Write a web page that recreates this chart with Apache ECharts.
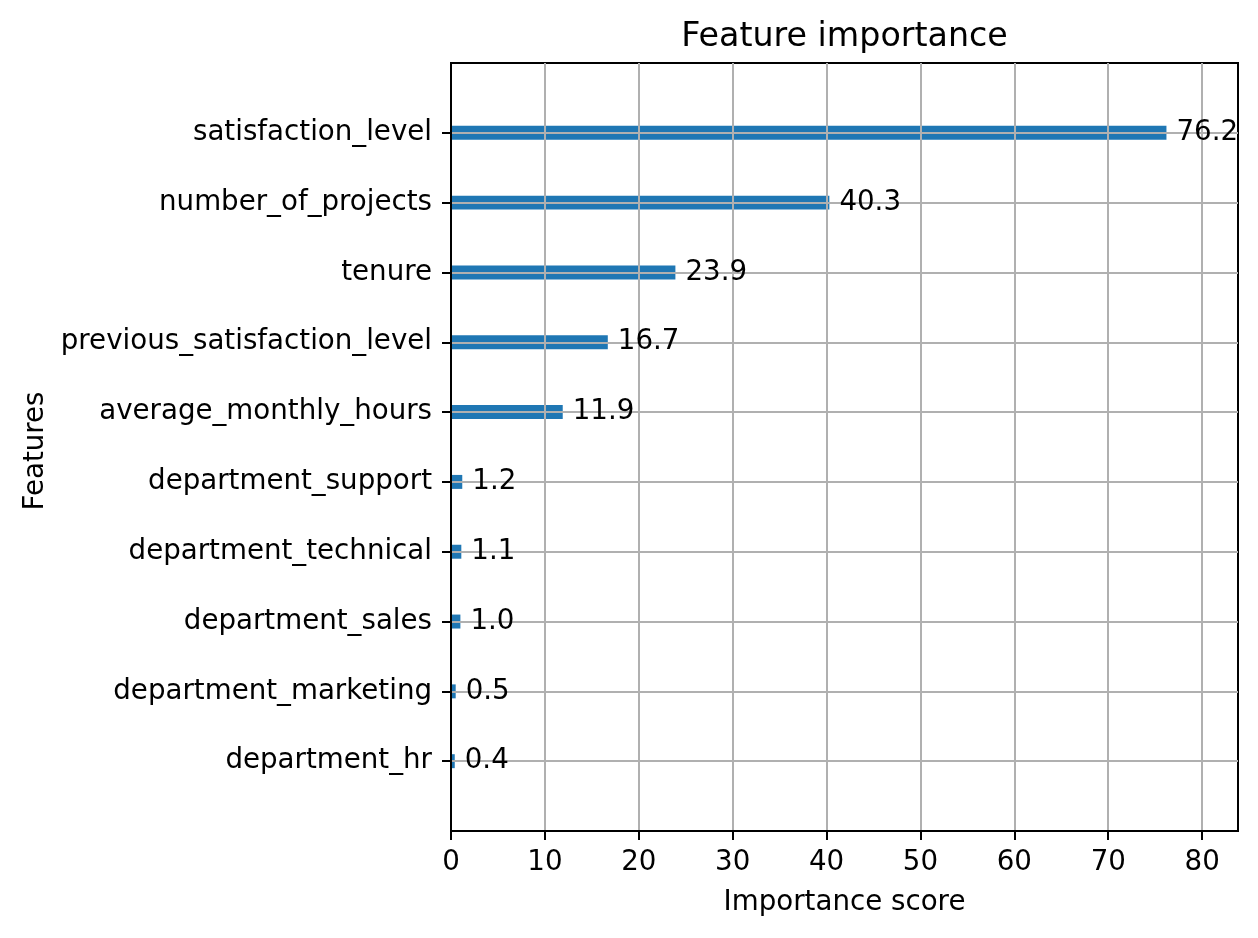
<!DOCTYPE html>
<html>
<head>
<meta charset="utf-8">
<script src="https://cdn.jsdelivr.net/npm/echarts@6/dist/echarts.min.js"></script>
<style>html,body{margin:0;padding:0;background:#fff}#c{width:1258px;height:938px}</style>
</head>
<body>
<div id="c"></div>
<script>
// Features, bottom to top
const features = [
  'department_hr',
  'department_marketing',
  'department_sales',
  'department_technical',
  'department_support',
  'average_monthly_hours',
  'previous_satisfaction_level',
  'tenure',
  'number_of_projects',
  'satisfaction_level'
];
const scores = [0.4, 0.5, 1.0, 1.1, 1.2, 11.9, 16.7, 23.9, 40.3, 76.2];
const xTicks = [0, 10, 20, 30, 40, 50, 60, 70, 80];

const FONT = 'DejaVu Sans';
const FS = 27.7;
const cats = [''].concat(features, ['']);
const vals = ['-'].concat(scores, ['-']);
const notPad = (i, v) => v !== '';

const chart = echarts.init(document.getElementById('c'), null, {renderer: 'canvas'});
chart.setOption({
  animation: false,
  backgroundColor: '#ffffff',
  title: {
    text: 'Feature importance',
    left: 844.5, top: 21, textAlign: 'center', padding: 0,
    textStyle: {fontFamily: FONT, fontSize: 33.3, fontWeight: 'normal', color: '#000'}
  },
  grid: {
    left: 451, top: 63, width: 787, height: 768,
    show: true, borderColor: '#000', borderWidth: 2, backgroundColor: 'transparent'
  },
  xAxis: {
    type: 'value', min: 0, max: 83.82, interval: 10, z: 3,
    name: 'Importance score', nameLocation: 'middle', nameGap: 58,
    nameTextStyle: {fontFamily: FONT, fontSize: FS, color: '#000'},
    axisLine: {show: true, lineStyle: {color: '#000', width: 2}},
    axisTick: {show: true, length: 9, lineStyle: {color: '#000', width: 2}, customValues: xTicks},
    axisLabel: {fontFamily: FONT, fontSize: FS, color: '#000', margin: 18, customValues: xTicks},
    splitLine: {show: true, lineStyle: {color: '#b0b0b0', width: 2}}
  },
  yAxis: {
    type: 'category', data: cats, boundaryGap: false, z: 3,
    name: 'Features', nameLocation: 'middle', nameGap: 401, nameRotate: 90,
    nameTextStyle: {fontFamily: FONT, fontSize: FS, color: '#000', padding: [0, 8, 0, 0]},
    axisLine: {show: true, lineStyle: {color: '#000', width: 2}},
    axisTick: {show: true, length: 9, interval: notPad, alignWithLabel: true, lineStyle: {color: '#000', width: 2}},
    axisLabel: {fontFamily: FONT, fontSize: FS, color: '#000', margin: 19, interval: 0, padding: [3, 0, 0, 0]},
    splitLine: {show: true, interval: notPad, lineStyle: {color: '#b0b0b0', width: 2}}
  },
  series: [
    {
      type: 'bar', data: vals, barWidth: '20%', z: 1,
      itemStyle: {color: '#1f77b4'},
      label: {show: false}
    },
    {
      type: 'bar', data: vals, barWidth: '20%', barGap: '-100%', z: 5,
      itemStyle: {color: 'rgba(0,0,0,0)'},
      label: {
        show: true, position: 'right', distance: 10,
        fontFamily: FONT, fontSize: FS, color: '#000',
        formatter: p => Number(p.value).toFixed(1)
      },
      silent: true
    }
  ]
});
</script>
</body>
</html>
